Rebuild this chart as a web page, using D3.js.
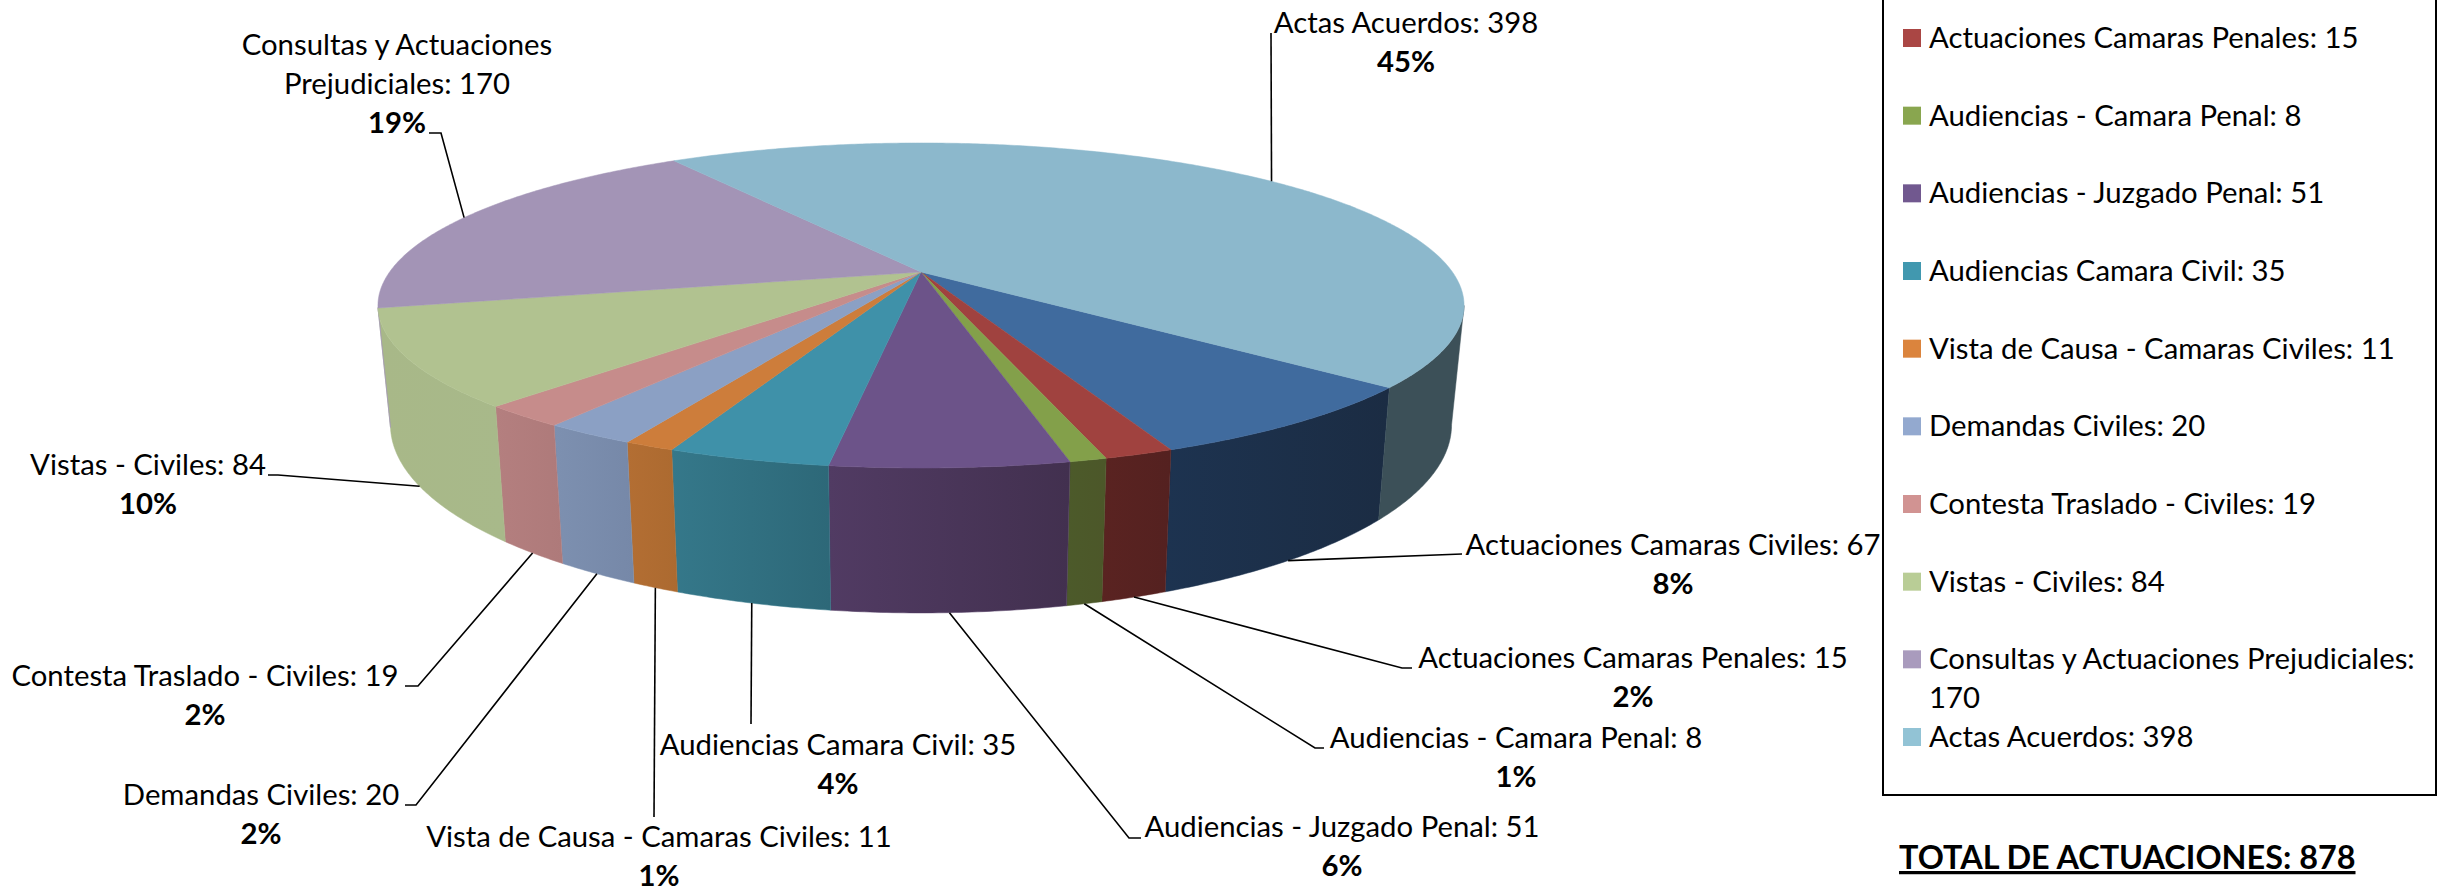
<!DOCTYPE html>
<html lang="es">
<head>
<meta charset="UTF-8">
<title>Total de actuaciones</title>
<script src="https://d3js.org/d3.v7.min.js"></script>
<style>
    body { margin: 0; background: #fff; font-family: Lato, sans-serif; }
    svg { display: block; }
    text { fill: #000; font-size: 29.3px; }
    .pct { font-weight: 700; }
    .total { font-weight: 700; font-size: 32.4px; text-decoration: underline; }
    .leader { fill: none; stroke: #000; stroke-width: 1.6; }
</style>
</head>
<body>
<svg id="chart" width="2448" height="892"></svg>
<script>
    // values, in the order the pie runs clockwise
    const categories = [
        "Actuaciones Camaras Civiles", "Actuaciones Camaras Penales", "Audiencias - Camara Penal",
        "Audiencias - Juzgado Penal", "Audiencias Camara Civil", "Vista de Causa - Camaras Civiles",
        "Demandas Civiles", "Contesta Traslado - Civiles", "Vistas - Civiles",
        "Consultas y Actuaciones Prejudiciales", "Actas Acuerdos"
    ];
    const values = [67, 15, 8, 51, 35, 11, 20, 19, 84, 170, 398];
    const totalLabel = "TOTAL DE ACTUACIONES: 878";

    // colours
    const topColors = ["#406b9e", "#a0423f", "#83a04a", "#6c5389", "#3f91a9", "#cd7d3b", "#8ba0c4", "#c68c8b", "#b1c290", "#a394b6", "#8cb8cc"];
    const wallFrom = ["#1d3350", "#5a2321", "#4c5a2a", "#513b63", "#35788a", "#b36e33", "#7d90b0", "#b47f7f", "#a8b888", "#a394b6", "#3c5058"];
    const wallTo = ["#1b2c43", "#542120", "#4c5729", "#42304f", "#2d6878", "#ac6a30", "#7688a8", "#ae7a7a", "#a8b98a", "#a394b6", "#3c5058"];
    const legendColors = ["#4a7ebb", "#aa4644", "#89a64f", "#71588f", "#4198af", "#db843d", "#93a9cf", "#d19392", "#b9cd96", "#a99bbd", "#92c3d5"];

    // label layout: centre x and first baseline, then the elbow of each leader
    const labelX = [1673, 1633, 1516, 1342, 838, 659, 261, 205, 148, 397, 1406];
    const labelY = [555, 668, 748, 837, 755, 847, 805, 686, 475, 55, 33];
    const elbows = [
        [[1462, 554]],
        [[1402, 668], [1412, 668]],
        [[1315, 748], [1324, 748]],
        [[1129, 838], [1141, 838]],
        [[751, 724]],
        [[654, 817]],
        [[416, 805], [405, 805]],
        [[418, 686], [405, 686]],
        [[278, 475], [268, 475]],
        [[441, 133], [429, 133]],
        [[1271, 33]]
    ];
    const lineStep = 39;

    const deg = Math.PI / 180;
    const svg = d3.select("#chart");

    // perspective of the pie: circle -> screen
    const cx = 921, cy = 272, a = 531.4, b = 155.6, k = 0.206;
    const baseScaleX = 0.977, baseScaleY = 1.158, baseY = 386;

    function rim(phi) {
        const u = Math.cos(phi), v = Math.sin(phi), w = 1 - k * v;
        return [cx + a * u / w, cy + b * v / w];
    }
    function base(phi) {
        const p = rim(phi);
        return [cx + (p[0] - cx) * baseScaleX, baseY + (p[1] - cy) * baseScaleY];
    }
    function sample(from, to) {
        const n = Math.max(2, Math.ceil(Math.abs(to - from) / deg) * 2);
        return d3.range(n + 1).map(i => from + (to - from) * i / n);
    }

    const line = d3.line();
    const startAngle = 130.15 * deg;
    const slices = d3.pie().sort(null).startAngle(startAngle).endAngle(startAngle + 2 * Math.PI)(values);
    // phi is clockwise from the right on screen, d3.pie goes clockwise from the top
    slices.forEach(d => {
        d.phi0 = d.startAngle - Math.PI / 2;
        d.phi1 = d.endAngle - Math.PI / 2;
        d.mid = (d.phi0 + d.phi1) / 2;
    });

    const wallMin = Math.asin(k), wallMax = 167.5 * deg;
    function wallRange(d) {
        // try the slice as is and one turn back (the last slice wraps past 360)
        for (const shift of [0, -2 * Math.PI]) {
            const f = Math.max(d.phi0 + shift, wallMin), t = Math.min(d.phi1 + shift, wallMax);
            if (t > f) return [f, t];
        }
        return null;
    }

    const defs = svg.append("defs");
    slices.forEach((d, i) => {
        const g = defs.append("linearGradient").attr("id", "wall" + i);
        g.append("stop").attr("offset", "0%").attr("stop-color", wallFrom[i]);
        g.append("stop").attr("offset", "100%").attr("stop-color", wallTo[i]);
    });

    // walls first, top face over them
    svg.append("g").selectAll("path")
        .data(slices.filter(d => wallRange(d)))
        .enter().append("path")
        .attr("fill", d => "url(#wall" + d.index + ")")
        .attr("stroke", d => wallFrom[d.index])
        .attr("stroke-width", 0.5)
        .attr("d", d => {
            const r = wallRange(d), angles = sample(r[0], r[1]);
            return line(angles.map(rim).concat(angles.slice().reverse().map(base))) + "Z";
        });

    svg.append("g").selectAll("path")
        .data(slices)
        .enter().append("path")
        .attr("fill", d => topColors[d.index])
        .attr("stroke", d => topColors[d.index])
        .attr("stroke-width", 0.5)
        .attr("d", d => line([[cx, cy]].concat(sample(d.phi0, d.phi1).map(rim))) + "Z");

    // leaders: start on the edge of the pie at the middle of the slice
    const isBack = d => Math.sin(d.mid) < 0;
    svg.append("g").selectAll("path")
        .data(slices)
        .enter().append("path")
        .attr("class", "leader")
        .attr("d", d => line([isBack(d) ? rim(d.mid) : base(d.mid)].concat(elbows[d.index])));

    // labels
    const pct = d3.format(".0%");
    const total = d3.sum(values);
    const labels = svg.append("g").attr("text-anchor", "middle");
    slices.forEach((d, i) => {
        const lines = i === 9
            ? ["Consultas y Actuaciones", "Prejudiciales: " + values[i]]
            : [categories[i] + ": " + values[i]];
        lines.forEach((t, j) => labels.append("text").attr("x", labelX[i]).attr("y", labelY[i] + j * lineStep).text(t));
        labels.append("text").attr("class", "pct")
            .attr("x", labelX[i]).attr("y", labelY[i] + lines.length * lineStep)
            .text(pct(values[i] / total));
    });

    // legend: its box and its first entry run off the top of the picture
    const legendY = d3.scaleLinear().domain([1, 10]).range([38, 737]);
    const legend = svg.append("g");
    legend.append("path").attr("d", line([[1883, 0], [1883, 795], [2436, 795], [2436, 0]]))
        .attr("fill", "none").attr("stroke", "#000").attr("stroke-width", 2);
    const entries = legend.selectAll("g")
        .data(categories.map((c, i) => i).slice(1))
        .enter().append("g")
        .attr("transform", i => "translate(1903," + legendY(i) + ")");
    entries.append("rect").attr("y", -9).attr("width", 18).attr("height", 18).attr("fill", i => legendColors[i]);
    entries.append("text").attr("x", 26).attr("y", 10)
        .text(i => i === 9 ? categories[i] + ":" : categories[i] + ": " + values[i]);
    entries.filter(i => i === 9).append("text").attr("x", 26).attr("y", 10 + lineStep).text(values[9]);

    svg.append("text").attr("class", "total").attr("x", 1899).attr("y", 869).text(totalLabel);
</script>
</body>
</html>
